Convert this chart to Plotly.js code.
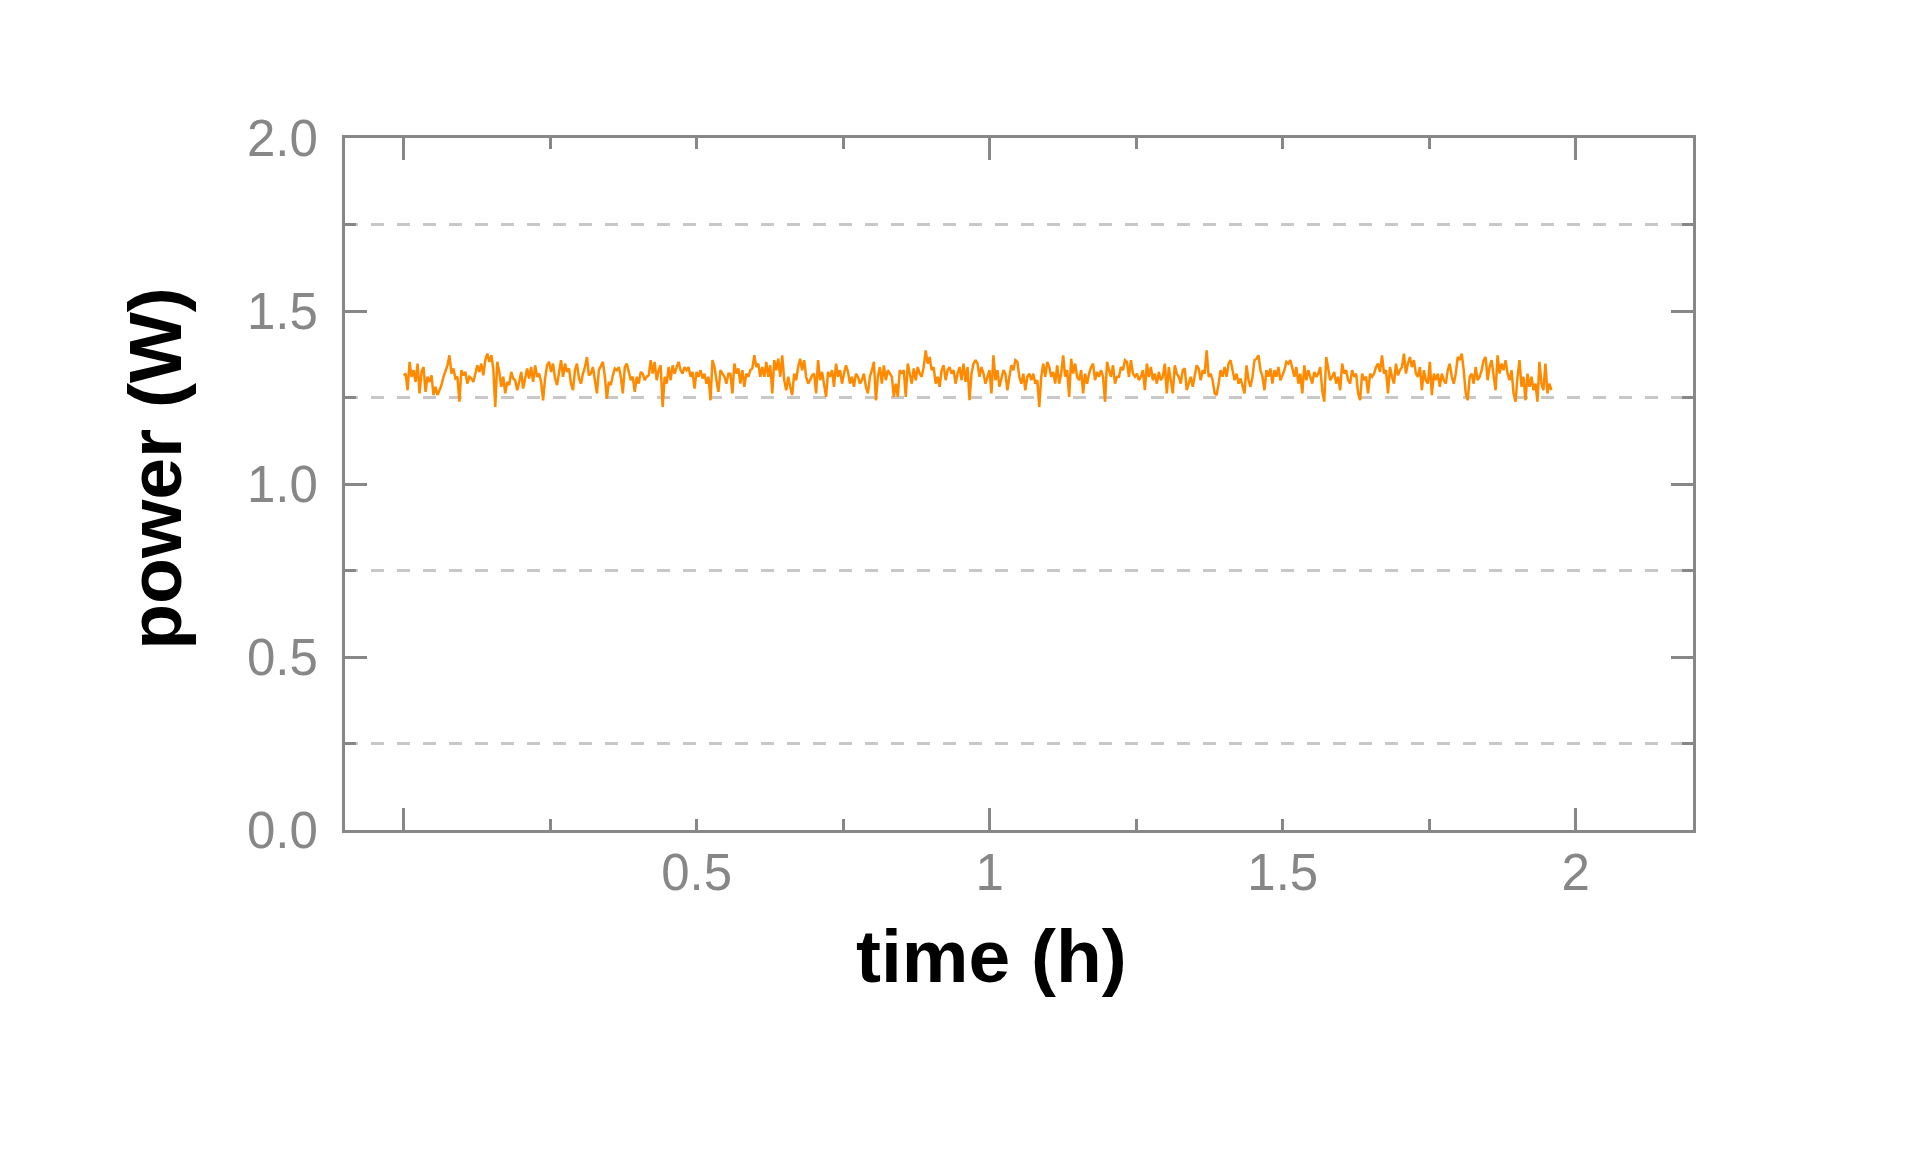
<!DOCTYPE html>
<html>
<head>
<meta charset="utf-8">
<script src="https://cdn.plot.ly/plotly-3.0.1.min.js"></script>
<style>html,body{margin:0;padding:0;background:#fff;}#chart{width:1920px;height:1152px;}</style>
</head>
<body>
<div id="chart"></div>
<script>
// time axis sampling (hours)
var timeStart = 0;
var timeStep = 0.0034;

// power readings (W) in consecutive segments
var powerA = [1.314,1.319,1.271,1.353,1.310,1.329,1.295,1.348,1.262,1.324,
1.338,1.266,1.310,1.295,1.314,1.257,1.281,1.257,1.271,1.286,
1.310,1.324,1.343,1.372,1.319,1.334,1.305,1.310,1.238,1.329,
1.314,1.324,1.290,1.310,1.305,1.295,1.319,1.343,1.324,1.348,
1.314,1.358,1.377,1.353,1.372,1.334,1.223,1.353,1.324,1.281,
1.310,1.262,1.295,1.286,1.324,1.305,1.300,1.271,1.295,1.324,
1.276,1.310,1.334,1.305,1.338,1.295,1.343,1.310,1.319,1.295,
1.242,1.305,1.343,1.353,1.324,1.348,1.305,1.286,1.324,1.358,
1.310];
var powerB = [1.348,1.324,1.334,1.290,1.271,1.329,1.348,1.305,1.290,1.319,
1.338,1.367,1.314,1.319,1.338,1.300,1.262,1.329,1.343,1.353,
1.310,1.247,1.295,1.286,1.314,1.334,1.329,1.338,1.310,1.262,
1.338,1.348,1.324,1.300,1.310,1.266,1.310,1.290,1.324,1.319,
1.300,1.310,1.314,1.358,1.319,1.353,1.300,1.329,1.343,1.223,
1.310,1.290,1.338,1.300,1.343,1.319,1.338,1.353,1.329,1.319,
1.338,1.329,1.338,1.310,1.324,1.276,1.324,1.310,1.329,1.305,
1.319,1.290,1.310,1.242,1.358,1.338,1.300,1.266,1.329,1.319,
1.310,1.290,1.319];
var powerC = [1.319,1.262,1.348,1.319,1.334,1.290,1.329,1.281,1.319,1.310,
1.329,1.334,1.372,1.338,1.348,1.310,1.338,1.310,1.353,1.310,
1.343,1.262,1.358,1.329,1.362,1.310,1.372,1.300,1.271,1.310,
1.281,1.257,1.319,1.300,1.338,1.362,1.329,1.358,1.310,1.290,
1.300,1.314,1.319,1.262,1.358,1.300,1.324,1.290,1.252,1.324,
1.310,1.329,1.281,1.348,1.310,1.329,1.290,1.319,1.343,1.324,
1.290,1.310,1.281,1.319,1.310,1.290,1.300,1.319,1.281,1.262,
1.310,1.329,1.353,1.242,1.310,1.338,1.290,1.343,1.300,1.329,
1.319,1.310,1.252];
var powerD = [1.290,1.252,1.329,1.319,1.329,1.252,1.348,1.319,1.290,1.334,
1.300,1.338,1.319,1.310,1.338,1.386,1.348,1.367,1.329,1.338,
1.290,1.310,1.281,1.329,1.343,1.300,1.329,1.338,1.319,1.329,
1.290,1.319,1.338,1.300,1.348,1.295,1.338,1.242,1.319,1.348,
1.358,1.348,1.310,1.338,1.319,1.290,1.310,1.329,1.262,1.372,
1.300,1.329,1.281,1.310,1.329,1.319,1.271,1.310,1.343,1.329,
1.358,1.353,1.310,1.290,1.319,1.271,1.310,1.319,1.300,1.319,
1.290,1.300,1.223,1.310,1.348,1.310,1.353,1.338,1.310,1.324,
1.290,1.343,1.290];
var powerE = [1.319,1.372,1.310,1.329,1.252,1.362,1.319,1.348,1.310,1.300,
1.329,1.262,1.319,1.290,1.319,1.338,1.348,1.300,1.324,1.310,
1.329,1.310,1.238,1.353,1.329,1.310,1.343,1.290,1.310,1.310,
1.338,1.329,1.358,1.353,1.310,1.358,1.319,1.310,1.319,1.300,
1.310,1.329,1.271,1.348,1.310,1.338,1.300,1.319,1.290,1.324,
1.300,1.310,1.348,1.262,1.338,1.300,1.262,1.343,1.319,1.310,
1.290,1.329,1.334,1.271,1.290,1.310,1.281,1.310,1.343,1.334,
1.300,1.329,1.319,1.386,1.310,1.319,1.300,1.262,1.257,1.290,
1.329,1.310,1.338];
var powerF = [1.310,1.348,1.358,1.329,1.300,1.319,1.290,1.305,1.281,1.262,
1.343,1.300,1.281,1.310,1.358,1.362,1.372,1.329,1.310,1.271,
1.329,1.310,1.334,1.290,1.329,1.310,1.338,1.300,1.314,1.329,
1.353,1.348,1.358,1.329,1.310,1.338,1.290,1.319,1.262,1.343,
1.300,1.329,1.310,1.290,1.324,1.310,1.319,1.338,1.271,1.238,
1.367,1.329,1.300,1.310,1.324,1.290,1.310,1.271,1.348,1.319,
1.329,1.300,1.290,1.329,1.310,1.319,1.262,1.242,1.319,1.300,
1.310,1.262,1.319,1.310,1.319,1.338,1.348,1.324,1.372,1.319,
1.329,1.262,1.338];
var powerG = [1.310,1.290,1.348,1.314,1.329,1.338,1.377,1.319,1.348,1.367,
1.338,1.358,1.319,1.310,1.338,1.271,1.329,1.300,1.290,1.353,
1.257,1.319,1.300,1.319,1.281,1.319,1.300,1.290,1.329,1.348,
1.310,1.290,1.319,1.367,1.358,1.377,1.329,1.262,1.242,1.310,
1.319,1.290,1.338,1.300,1.310,1.329,1.358,1.367,1.300,1.338,
1.358,1.319,1.271,1.372,1.319,1.348,1.329,1.358,1.319,1.300,
1.329,1.262,1.238,1.310,1.358,1.281,1.310,1.242,1.319,1.281,
1.310,1.271,1.290,1.238,1.353,1.290,1.271,1.348,1.262,1.290,
1.271];

// tick labels
var xLabelVals = [0.5, 1, 1.5, 2];
var xLabelText = ["0.5", "1", "1.5", "2"];
var xTitle = "time (h)";
var yTitle = "power (W)";

var power = [].concat(powerA, powerB, powerC, powerD, powerE, powerF, powerG);

var gray = "#878787";
var tickFont = {family: "Liberation Sans, Arial, sans-serif", size: 51, color: gray};
var titleFont = {family: "Liberation Sans, Arial, sans-serif", size: 75, color: "#000000", weight: "bold"};

var traces = [
  {
    type: "scatter", mode: "lines",
    x0: timeStart, dx: timeStep, y: power,
    line: {color: "#FF8A00", width: 2.5},
    xaxis: "x", yaxis: "y", showlegend: false, hoverinfo: "x+y"
  },
  {
    type: "scatter", mode: "lines", x: [], y: [],
    xaxis: "x2", yaxis: "y", showlegend: false, hoverinfo: "skip"
  }
];

var layout = {
  width: 1920, height: 1152,
  margin: {l: 345, r: 227, t: 138, b: 322, pad: 0},
  paper_bgcolor: "#ffffff", plot_bgcolor: "#ffffff",
  showlegend: false,
  xaxis: {
    range: [-0.1, 2.2], tick0: 0, dtick: 1,
    ticks: "inside", ticklen: 22, tickwidth: 3, tickcolor: gray,
    showticklabels: false,
    showline: true, linecolor: gray, linewidth: 3, mirror: "ticks",
    showgrid: false, zeroline: false,
    minor: {tick0: 0, dtick: 0.25, ticks: "inside", ticklen: 11, tickwidth: 3, tickcolor: gray, showgrid: false}
  },
  xaxis2: {
    overlaying: "x", anchor: "y", side: "bottom",
    range: [-0.1, 2.2], tickmode: "array", tickvals: xLabelVals, ticktext: xLabelText,
    ticks: "", showline: false, showgrid: false, zeroline: false,
    tickfont: tickFont, ticklabelstandoff: 8
  },
  yaxis: {
    range: [0, 2], tick0: 0, dtick: 0.5, tickformat: ".1f",
    ticks: "inside", ticklen: 22, tickwidth: 3, tickcolor: gray,
    showline: true, linecolor: gray, linewidth: 3, mirror: "ticks",
    showgrid: false, zeroline: false,
    tickfont: tickFont, ticklabelstandoff: 14,
    minor: {tick0: 0, dtick: 0.25, ticks: "inside", ticklen: 11, tickwidth: 3, tickcolor: gray,
            showgrid: true, gridcolor: "#c8c8c8", gridwidth: 3, griddash: "13px,13px"}
  },
  annotations: [
    {text: xTitle, xref: "paper", yref: "paper", x: 0.4795, y: -0.182,
     xanchor: "center", yanchor: "middle", showarrow: false, font: titleFont},
    {text: yTitle, xref: "paper", yref: "paper", x: -0.1406, y: 0.5228,
     xanchor: "center", yanchor: "middle", textangle: -90, showarrow: false, font: titleFont}
  ]
};

Plotly.newPlot("chart", traces, layout, {displayModeBar: false, staticPlot: true});
</script>
</body>
</html>
